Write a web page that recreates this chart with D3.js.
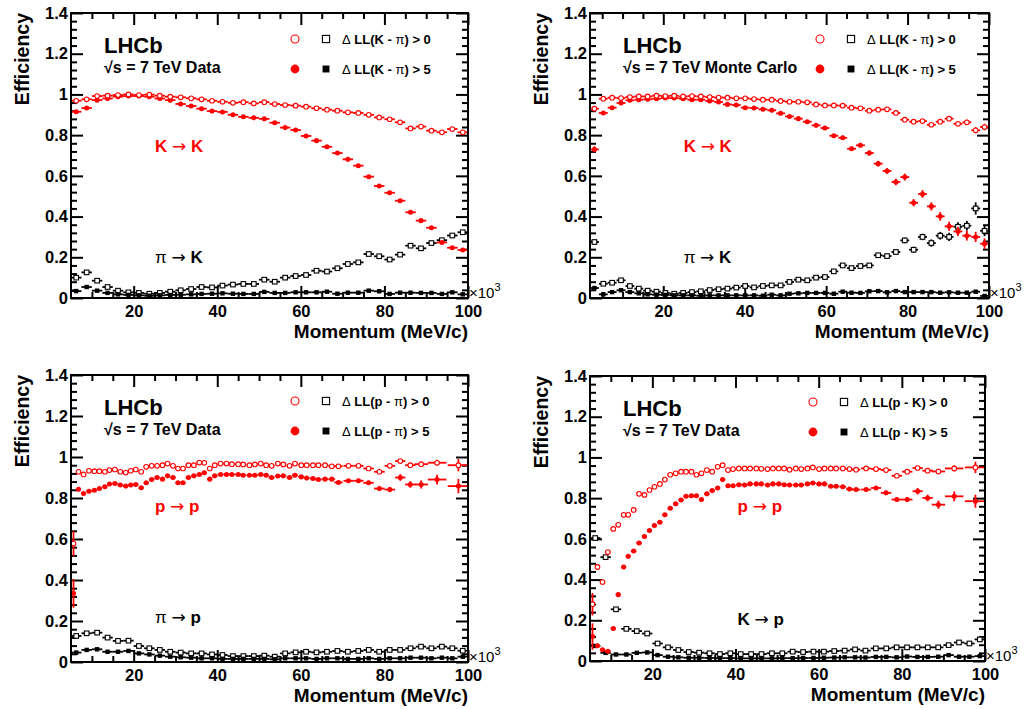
<!DOCTYPE html>
<html><head><meta charset="utf-8">
<script src="https://cdn.jsdelivr.net/npm/d3@7"></script>
<style>
body{margin:0;background:#fff}
text{font-family:"Liberation Sans",Arial,sans-serif}
</style>
</head><body>
<svg id="c" width="1027" height="709"></svg>
<script>
// ---------------- DATA ----------------
// bin centres (x in 10^3 MeV/c)
const bins25 = [6.25,8.75,11.25,13.75,16.25,18.75,21.25,23.75,26.25,28.75,31.25,33.75,36.25,38.75,41.25,43.75,46.25,48.75,51.25,53.75,56.25,58.75,61.25,63.75,66.25,68.75,71.25,73.75,76.25,78.75,81.25,83.75,86.25,88.75,91.25,93.75,96.25,98.75];
const bins25Width = 2.5;
const binsMC = [3.09,5.27,7.44,9.62,11.80,13.98,16.16,18.33,20.51,22.69,24.87,27.04,29.22,31.40,33.58,35.76,37.93,40.11,42.29,44.47,46.64,48.82,51.00,53.18,55.36,57.53,59.71,61.89,64.07,66.24,68.42,70.60,72.78,74.96,77.13,79.31,81.49,83.67,85.84,88.02,90.20,92.38,94.56,96.73,98.91];
const binsMCWidth = 98/45;
const binsProton = [5.6,6.8,8.0,9.3,10.6,11.8,13.1,14.2,15.5,16.8,18.1,19.3,20.5,21.8,23.0,24.3,25.6,26.9,28.1,29.4,30.6,31.8,33.1,34.4,35.7,36.9,38.2,39.4,40.8,42.2,43.5,45.0,46.2,47.7,49.0,50.4,51.7,53.0,54.5,55.8,57.3,58.6,60.1,61.4,62.9,64.2,65.8,67.4,69.0,71.4,73.8,76.2,78.8,81.3,83.8,86.2,88.8,92.6,97.7];

// Panel 1: K ID, data
const p1KK0 = [0.969,0.976,0.992,0.994,0.997,1.0,0.997,0.999,0.994,0.989,0.986,0.981,0.976,0.969,0.964,0.959,0.962,0.956,0.962,0.953,0.948,0.945,0.94,0.932,0.925,0.92,0.912,0.909,0.9,0.887,0.878,0.863,0.833,0.842,0.822,0.814,0.83,0.814];
const p1KK5 = [0.915,0.933,0.972,0.98,0.989,0.992,0.992,0.989,0.98,0.972,0.953,0.943,0.93,0.918,0.914,0.9,0.89,0.885,0.88,0.861,0.837,0.825,0.796,0.773,0.743,0.712,0.681,0.65,0.596,0.55,0.517,0.478,0.421,0.38,0.345,0.273,0.247,0.236];
const p1PiK0 = [0.10,0.126,0.085,0.054,0.036,0.028,0.025,0.021,0.025,0.031,0.038,0.044,0.054,0.052,0.061,0.066,0.069,0.069,0.09,0.08,0.10,0.108,0.113,0.134,0.13,0.146,0.167,0.175,0.216,0.205,0.189,0.213,0.257,0.244,0.27,0.284,0.307,0.323];
const p1PiK5 = [0.034,0.054,0.036,0.025,0.018,0.015,0.013,0.011,0.013,0.015,0.016,0.018,0.02,0.021,0.023,0.021,0.02,0.02,0.03,0.025,0.025,0.028,0.028,0.028,0.031,0.021,0.026,0.026,0.036,0.033,0.02,0.026,0.026,0.025,0.025,0.02,0.028,0.018];

// Panel 2: K ID, Monte Carlo
const p2KK0 = [0.93,0.979,0.984,0.982,0.987,0.99,0.99,0.994,0.992,0.994,0.99,0.992,0.99,0.987,0.985,0.984,0.981,0.981,0.977,0.974,0.974,0.968,0.964,0.964,0.961,0.951,0.946,0.946,0.945,0.935,0.932,0.92,0.925,0.927,0.909,0.876,0.866,0.869,0.851,0.866,0.881,0.856,0.863,0.824,0.84];
const p2KK0Err = [0.012,0.004,0.003,0.003,0.003,0.003,0.003,0.003,0.003,0.003,0.003,0.003,0.003,0.003,0.003,0.003,0.003,0.003,0.003,0.003,0.003,0.003,0.004,0.004,0.004,0.004,0.004,0.005,0.005,0.005,0.005,0.006,0.006,0.006,0.007,0.008,0.008,0.009,0.01,0.01,0.011,0.012,0.013,0.015,0.016];
const p2KK5 = [0.73,0.909,0.935,0.958,0.971,0.974,0.976,0.979,0.982,0.982,0.979,0.974,0.974,0.968,0.963,0.951,0.948,0.935,0.933,0.927,0.922,0.907,0.892,0.881,0.866,0.848,0.835,0.797,0.787,0.733,0.75,0.712,0.66,0.624,0.57,0.594,0.468,0.511,0.45,0.401,0.352,0.327,0.306,0.30,0.267];
const p2KK5Err = [0.015,0.005,0.004,0.003,0.003,0.003,0.003,0.003,0.003,0.003,0.003,0.003,0.003,0.003,0.004,0.004,0.004,0.004,0.005,0.005,0.005,0.006,0.006,0.007,0.007,0.008,0.008,0.009,0.01,0.011,0.012,0.013,0.014,0.015,0.016,0.017,0.018,0.019,0.02,0.021,0.022,0.023,0.024,0.025,0.026];
const p2PiK0 = [0.275,0.07,0.075,0.087,0.059,0.046,0.036,0.031,0.025,0.021,0.025,0.029,0.033,0.039,0.043,0.046,0.051,0.059,0.052,0.059,0.062,0.062,0.079,0.09,0.087,0.1,0.103,0.131,0.16,0.147,0.157,0.16,0.21,0.206,0.226,0.283,0.237,0.30,0.27,0.306,0.30,0.35,0.355,0.44,0.33];
const p2PiK0Err = [0.012,0.004,0.004,0.004,0.003,0.003,0.003,0.003,0.003,0.003,0.003,0.003,0.003,0.003,0.003,0.003,0.003,0.003,0.003,0.003,0.004,0.004,0.004,0.005,0.005,0.005,0.006,0.006,0.007,0.008,0.008,0.009,0.01,0.011,0.012,0.014,0.015,0.016,0.018,0.019,0.02,0.022,0.024,0.03,0.026];
const p2PiK5 = [0.049,0.018,0.029,0.038,0.029,0.023,0.018,0.016,0.015,0.013,0.013,0.013,0.011,0.013,0.013,0.013,0.013,0.013,0.013,0.011,0.016,0.013,0.021,0.023,0.025,0.025,0.025,0.021,0.031,0.026,0.025,0.033,0.034,0.028,0.034,0.029,0.029,0.029,0.029,0.026,0.028,0.026,0.026,0.031,0.01];

// Panel 3: p ID vs pi, data
const p3PP0 = [0.578,0.928,0.915,0.933,0.931,0.931,0.928,0.936,0.939,0.928,0.924,0.933,0.939,0.928,0.952,0.957,0.957,0.96,0.968,0.957,0.944,0.944,0.96,0.96,0.973,0.972,0.944,0.96,0.968,0.968,0.965,0.965,0.964,0.96,0.964,0.968,0.96,0.957,0.968,0.964,0.957,0.968,0.96,0.96,0.96,0.96,0.96,0.955,0.955,0.957,0.957,0.944,0.928,0.957,0.98,0.96,0.965,0.972,0.96];
const p3PP0Err = [0.06,0.008,0.005,0.004,0.004,0.004,0.004,0.004,0.004,0.004,0.004,0.004,0.004,0.004,0.004,0.004,0.004,0.004,0.004,0.004,0.004,0.004,0.004,0.004,0.004,0.004,0.004,0.004,0.004,0.004,0.004,0.004,0.004,0.004,0.004,0.004,0.004,0.004,0.004,0.004,0.005,0.005,0.005,0.005,0.005,0.005,0.005,0.005,0.006,0.006,0.006,0.007,0.008,0.008,0.009,0.01,0.012,0.014,0.03];
const p3PP5 = [0.335,0.843,0.822,0.833,0.838,0.846,0.855,0.868,0.871,0.863,0.858,0.863,0.866,0.85,0.874,0.89,0.9,0.892,0.908,0.9,0.874,0.874,0.9,0.908,0.915,0.923,0.892,0.908,0.915,0.915,0.915,0.915,0.911,0.911,0.911,0.915,0.911,0.9,0.907,0.908,0.9,0.911,0.903,0.898,0.895,0.89,0.892,0.892,0.876,0.884,0.884,0.874,0.846,0.841,0.9,0.866,0.866,0.89,0.858];
const p3PP5Err = [0.07,0.01,0.006,0.005,0.005,0.005,0.005,0.005,0.005,0.005,0.005,0.005,0.005,0.005,0.005,0.005,0.005,0.005,0.005,0.005,0.005,0.005,0.005,0.005,0.005,0.005,0.005,0.005,0.005,0.005,0.005,0.005,0.005,0.005,0.005,0.005,0.005,0.005,0.005,0.005,0.006,0.006,0.006,0.006,0.006,0.006,0.007,0.007,0.008,0.008,0.009,0.01,0.011,0.012,0.016,0.016,0.02,0.024,0.035];
const p3PiP0 = [0.127,0.14,0.143,0.119,0.103,0.104,0.078,0.067,0.059,0.05,0.046,0.042,0.042,0.037,0.034,0.029,0.029,0.029,0.031,0.026,0.042,0.047,0.05,0.047,0.05,0.054,0.05,0.054,0.059,0.05,0.059,0.059,0.067,0.075,0.067,0.075,0.067,0.055];
const p3PiP5 = [0.046,0.059,0.062,0.05,0.05,0.054,0.042,0.037,0.031,0.026,0.023,0.021,0.018,0.018,0.015,0.015,0.015,0.015,0.015,0.013,0.018,0.018,0.018,0.015,0.018,0.018,0.015,0.015,0.018,0.015,0.018,0.018,0.021,0.021,0.018,0.021,0.018,0.026];

// Panel 4: p ID vs K, data
const p4PP0 = [0.279,0.462,0.388,0.535,0.649,0.669,0.718,0.718,0.742,0.821,0.816,0.84,0.856,0.87,0.891,0.915,0.922,0.93,0.93,0.93,0.915,0.922,0.938,0.93,0.954,0.962,0.938,0.943,0.946,0.946,0.946,0.946,0.944,0.943,0.946,0.946,0.946,0.94,0.946,0.943,0.946,0.951,0.943,0.946,0.946,0.946,0.946,0.943,0.94,0.946,0.943,0.938,0.91,0.93,0.948,0.935,0.931,0.946,0.951];
const p4PP0Err = [0.055,0.015,0.012,0.01,0.008,0.007,0.006,0.006,0.005,0.005,0.005,0.005,0.004,0.004,0.004,0.004,0.004,0.004,0.004,0.004,0.004,0.004,0.004,0.004,0.004,0.004,0.004,0.004,0.004,0.004,0.004,0.004,0.004,0.004,0.004,0.004,0.004,0.004,0.004,0.004,0.005,0.005,0.005,0.005,0.005,0.005,0.005,0.005,0.006,0.006,0.006,0.007,0.008,0.008,0.01,0.011,0.013,0.015,0.028];
const p4PP5 = [0.12,0.075,0.055,0.048,0.16,0.326,0.462,0.514,0.54,0.58,0.612,0.641,0.666,0.682,0.718,0.75,0.772,0.791,0.809,0.812,0.812,0.793,0.821,0.837,0.85,0.891,0.861,0.861,0.866,0.865,0.87,0.87,0.87,0.865,0.87,0.87,0.866,0.865,0.865,0.865,0.87,0.874,0.87,0.87,0.858,0.858,0.856,0.845,0.842,0.842,0.85,0.826,0.793,0.793,0.834,0.801,0.768,0.809,0.785];
const p4PP5Err = [0.065,0.008,0.006,0.006,0.008,0.01,0.01,0.01,0.009,0.009,0.008,0.008,0.008,0.007,0.007,0.007,0.006,0.006,0.006,0.006,0.006,0.006,0.006,0.006,0.006,0.006,0.006,0.006,0.006,0.006,0.006,0.006,0.006,0.006,0.006,0.006,0.006,0.006,0.006,0.006,0.006,0.006,0.006,0.006,0.006,0.006,0.007,0.007,0.008,0.008,0.009,0.01,0.011,0.012,0.016,0.016,0.02,0.024,0.032];
const p4KP0 = [0.604,0.51,0.254,0.158,0.147,0.135,0.086,0.067,0.054,0.044,0.041,0.038,0.034,0.038,0.034,0.034,0.034,0.038,0.038,0.046,0.044,0.046,0.046,0.049,0.051,0.057,0.051,0.062,0.062,0.067,0.067,0.067,0.067,0.067,0.078,0.091,0.086,0.106];
const p4KP5 = [0.074,0.04,0.032,0.032,0.04,0.042,0.029,0.021,0.018,0.016,0.016,0.015,0.014,0.014,0.013,0.013,0.013,0.013,0.014,0.014,0.015,0.015,0.016,0.017,0.018,0.018,0.017,0.02,0.02,0.018,0.022,0.02,0.02,0.021,0.029,0.021,0.021,0.024];

// axis ticks and texts
const xTickLabels = [20,40,60,80,100];
const yTickLabels = [0,0.2,0.4,0.6,0.8,1,1.2,1.4];
const yTitle = "Efficiency";
const xTitle = "Momentum (MeV/c)";

// ---------------- DRAWING ----------------
const RED = "#ff0000", BLK = "#000000";
const FONT = '"Liberation Sans",Arial,sans-serif';
const svg = d3.select("#c");
svg.append("rect").attr("width",1027).attr("height",709).attr("fill","#fff");

function rich(sel, parts){ // parts: [text, bold]
  parts.forEach(([t,b]) => {
    const ts = sel.append("tspan").text(t).attr("font-weight", b ? "bold" : "normal");
    if (t === "→") ts.attr("font-family", '"DejaVu Sans",sans-serif');
  });
  return sel;
}
function halfWidths(xs, width){
  if (width) return xs.map(() => width/2);
  return xs.map((v,i) => {
    if (i === 0) return (xs[1]-xs[0])/2;
    if (i === xs.length-1) return (xs[i]-xs[i-1])/2;
    return (xs[i+1]-xs[i-1])/4;
  });
}

const panels = [
 {l:71, r:468, t:13, b:298, xDom:[5,100], legDx:224, energy:"√s = 7 TeV Data",
  leg0:[["Δ",0],[" LL(K - ",1],["π",0],[") > 0",1]], leg5:[["Δ",0],[" LL(K - ",1],["π",0],[") > 5",1]],
  lab1:{x:25.1, v:0.719, parts:[["K ",1],["→",0],[" K",1]], c:RED},
  lab2:{x:25.1, v:0.172, parts:[["π",0],[" ",1],["→",0],[" K",1]], c:BLK},
  series:[
   {xs:bins25, w:bins25Width, vals:p1PiK0, type:"sqOpen"},
   {xs:bins25, w:bins25Width, vals:p1PiK5, type:"sqFill"},
   {xs:bins25, w:bins25Width, vals:p1KK5, type:"ciFill"},
   {xs:bins25, w:bins25Width, vals:p1KK0, type:"ciOpen"}]},
 {l:590, r:989, t:13, b:298, xDom:[2,100], legDx:230, energy:"√s = 7 TeV Monte Carlo",
  leg0:[["Δ",0],[" LL(K - ",1],["π",0],[") > 0",1]], leg5:[["Δ",0],[" LL(K - ",1],["π",0],[") > 5",1]],
  lab1:{x:25, v:0.719, parts:[["K ",1],["→",0],[" K",1]], c:RED},
  lab2:{x:25, v:0.172, parts:[["π",0],[" ",1],["→",0],[" K",1]], c:BLK},
  series:[
   {xs:binsMC, w:binsMCWidth, vals:p2PiK0, err:p2PiK0Err, type:"sqOpen"},
   {xs:binsMC, w:binsMCWidth, vals:p2PiK5, type:"sqFill"},
   {xs:binsMC, w:binsMCWidth, vals:p2KK5, err:p2KK5Err, type:"ciFill"},
   {xs:binsMC, w:binsMCWidth, vals:p2KK0, err:p2KK0Err, type:"ciOpen"}]},
 {l:71, r:468, t:375, b:662, xDom:[5,100], legDx:224, energy:"√s = 7 TeV Data",
  leg0:[["Δ",0],[" LL(p - ",1],["π",0],[") > 0",1]], leg5:[["Δ",0],[" LL(p - ",1],["π",0],[") > 5",1]],
  lab1:{x:25.1, v:0.732, parts:[["p ",1],["→",0],[" p",1]], c:RED},
  lab2:{x:25.1, v:0.192, parts:[["π",0],[" ",1],["→",0],[" p",1]], c:BLK},
  series:[
   {xs:bins25, w:bins25Width, vals:p3PiP0, type:"sqOpen"},
   {xs:bins25, w:bins25Width, vals:p3PiP5, type:"sqFill"},
   {xs:binsProton, vals:p3PP5, err:p3PP5Err, type:"ciFill"},
   {xs:binsProton, vals:p3PP0, err:p3PP0Err, type:"ciOpen"}]},
 {l:590, r:985, t:376, b:661, xDom:[5,100], legDx:223, energy:"√s = 7 TeV Data",
  leg0:[["Δ",0],[" LL(p - K) > 0",1]], leg5:[["Δ",0],[" LL(p - K) > 5",1]],
  lab1:{x:40.5, v:0.731, parts:[["p ",1],["→",0],[" p",1]], c:RED},
  lab2:{x:40.5, v:0.176, parts:[["K ",1],["→",0],[" p",1]], c:BLK},
  series:[
   {xs:bins25, w:bins25Width, vals:p4KP0, type:"sqOpen"},
   {xs:bins25, w:bins25Width, vals:p4KP5, type:"sqFill"},
   {xs:binsProton, vals:p4PP5, err:p4PP5Err, type:"ciFill"},
   {xs:binsProton, vals:p4PP0, err:p4PP0Err, type:"ciOpen"}]}
];

function marker(sel, type, size){
  const red = type.startsWith("ci");
  const col = red ? RED : BLK;
  if (type === "ciOpen") return sel.append("circle").attr("r", size*0.5).attr("fill","#fff").attr("stroke",col).attr("stroke-width",1.1);
  if (type === "ciFill") return sel.append("circle").attr("r", size*0.55).attr("fill",col);
  if (type === "sqOpen") return sel.append("rect").attr("x",-size/2).attr("y",-size/2).attr("width",size).attr("height",size).attr("fill","#fff").attr("stroke",col).attr("stroke-width",1.1);
  return sel.append("rect").attr("x",-size*0.48).attr("y",-size*0.48).attr("width",size*0.96).attr("height",size*0.96).attr("fill",col);
}

panels.forEach((p, pi) => {
  const x = d3.scaleLinear().domain(p.xDom).range([p.l, p.r]);
  const y = d3.scaleLinear().domain([0, 1.4]).range([p.b, p.t]);
  const g = svg.append("g");
  const clipId = "clip" + pi;
  svg.append("clipPath").attr("id", clipId).append("rect")
    .attr("x", p.l).attr("y", p.t).attr("width", p.r - p.l).attr("height", p.b - p.t);

  // tick marks (inside, on all four sides)
  const xMinor = d3.range(5, 100, 5).filter(v => v > p.xDom[0] && !xTickLabels.includes(v));
  const yMinor = d3.range(0.04, 1.4, 0.04).filter(v => Math.abs(v/0.2 - Math.round(v/0.2)) > 1e-6);
  const tickSets = [
    [d3.axisBottom(x), `translate(0,${p.b})`, xTickLabels, xMinor],
    [d3.axisTop(x), `translate(0,${p.t})`, xTickLabels, xMinor],
    [d3.axisLeft(y), `translate(${p.l},0)`, yTickLabels, yMinor],
    [d3.axisRight(y), `translate(${p.r},0)`, yTickLabels, yMinor]
  ];
  tickSets.forEach(([ax, tr, maj, min]) => {
    [[maj, -12], [min, -6]].forEach(([vals, len]) => {
      const a = g.append("g").attr("transform", tr)
        .call(ax.tickValues(vals).tickSize(len).tickSizeOuter(0).tickFormat(""));
      a.select(".domain").remove();
      a.selectAll("line").attr("stroke", "#000").attr("stroke-width", 2);
    });
  });

  // tick labels
  const xl = g.append("g").attr("transform", `translate(0,${p.b})`)
    .call(d3.axisBottom(x).tickValues(xTickLabels).tickSize(0).tickPadding(7).tickFormat(d3.format("d")));
  xl.select(".domain").remove();
  xl.attr("font-size", 16.5).attr("font-family", FONT).attr("font-weight", "bold");
  xl.selectAll("text").attr("fill", "#000");
  const yl = g.append("g").attr("transform", `translate(${p.l},0)`)
    .call(d3.axisLeft(y).tickValues(yTickLabels).tickSize(0).tickPadding(3).tickFormat(d => String(+d.toFixed(1))));
  yl.select(".domain").remove();
  yl.attr("font-size", 16.5).attr("font-family", FONT).attr("font-weight", "bold");
  yl.selectAll("text").attr("fill", "#000");

  // data
  const dg = g.append("g").attr("clip-path", `url(#${clipId})`);
  p.series.forEach(s => {
    const hw = halfWidths(s.xs, s.w);
    const col = s.type.startsWith("ci") ? RED : BLK;
    const d = s.vals.map((v, i) => ({x: s.xs[i], v, hw: hw[i], e: s.err ? s.err[i] : 0}));
    const sg = dg.append("g");
    sg.selectAll("line.h").data(d).join("line").attr("class", "h")
      .attr("x1", q => x(q.x - q.hw)).attr("x2", q => x(q.x + q.hw))
      .attr("y1", q => y(q.v)).attr("y2", q => y(q.v))
      .attr("stroke", col).attr("stroke-width", 1.8);
    sg.selectAll("line.v").data(d.filter(q => q.e > 0)).join("line").attr("class", "v")
      .attr("x1", q => x(q.x)).attr("x2", q => x(q.x))
      .attr("y1", q => y(q.v - q.e)).attr("y2", q => y(q.v + q.e))
      .attr("stroke", col).attr("stroke-width", 1.8);
    sg.selectAll("g.m").data(d).join("g").attr("class", "m")
      .attr("transform", q => `translate(${x(q.x)},${y(q.v)})`)
      .each(function(){ marker(d3.select(this), s.type, 4.6); });
  });

  // frame
  g.append("rect").attr("x", p.l).attr("y", p.t).attr("width", p.r - p.l).attr("height", p.b - p.t)
    .attr("fill", "none").attr("stroke", "#000").attr("stroke-width", 2);

  // titles
  g.append("text").attr("transform", `translate(${p.l - 42},${p.t}) rotate(-90)`)
    .attr("text-anchor", "end").attr("font-size", 19.5).attr("font-weight", "bold").text(yTitle);
  g.append("text").attr("x", p.r).attr("y", p.b + 40).attr("text-anchor", "end")
    .attr("font-size", 19).attr("font-weight", "bold").text(xTitle);
  const ex = g.append("text").attr("x", p.r + 1).attr("y", p.b).attr("font-size", 15);
  ex.append("tspan").text("×10");
  ex.append("tspan").attr("dy", -7).attr("font-size", 11).text("3");

  // LHCb block
  g.append("text").attr("x", p.l + 33).attr("y", p.t + 40).attr("font-size", 22).attr("font-weight", "bold").text("LHCb");
  g.append("text").attr("x", p.l + 33).attr("y", p.t + 60).attr("font-size", 16).attr("font-weight", "bold").text(p.energy);

  // legend
  [[p.leg0, 26, "ciOpen", "sqOpen"], [p.leg5, 56, "ciFill", "sqFill"]].forEach(([parts, dy, m1, m2]) => {
    const cy = p.t + dy;
    marker(g.append("g").attr("transform", `translate(${p.l + p.legDx},${cy})`), m1, 8);
    marker(g.append("g").attr("transform", `translate(${p.l + p.legDx + 31},${cy})`), m2, 7.2);
    rich(g.append("text").attr("x", p.l + p.legDx + 47).attr("y", cy + 5).attr("font-size", 13), parts);
  });

  // process labels
  [p.lab1, p.lab2].forEach(lb => {
    rich(g.append("text").attr("x", x(lb.x)).attr("y", y(lb.v)).attr("font-size", 17).attr("fill", lb.c), lb.parts);
  });
});
</script>
</body></html>
